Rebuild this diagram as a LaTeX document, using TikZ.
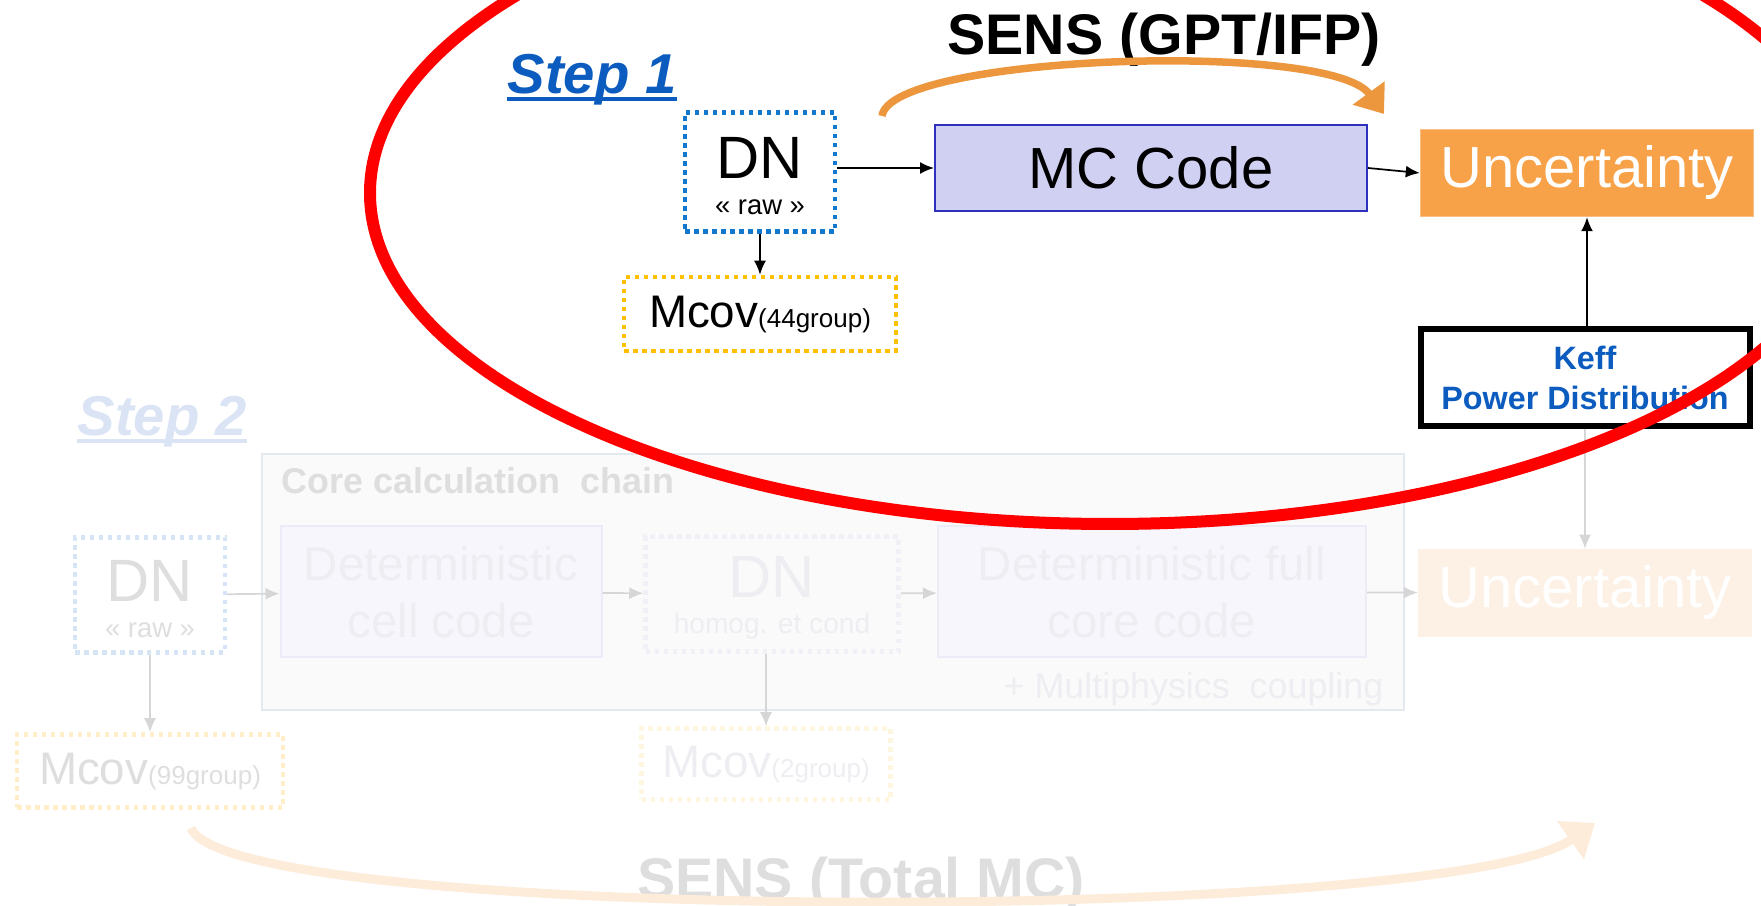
\documentclass[tikz,border=0pt]{standalone}
\usepackage{fontspec}
\setmainfont{Liberation Sans}
\usepackage{tikz}
\usetikzlibrary{positioning, arrows.meta, calc}

\definecolor{stepblue}{RGB}{11,92,190}
\definecolor{dnblue}{RGB}{18,120,205}
\definecolor{mcovgold}{RGB}{255,192,0}
\definecolor{mcfill}{RGB}{208,208,242}
\definecolor{mcline}{RGB}{48,48,190}
\definecolor{uncorange}{RGB}{247,162,72}
\definecolor{uncline}{RGB}{250,190,130}
\definecolor{sensorange}{RGB}{236,150,62}
\definecolor{ringred}{RGB}{255,0,0}
% faded step 2
\definecolor{fadegray}{RGB}{222,222,222}
\definecolor{fadearrow}{RGB}{214,214,214}
\definecolor{step2blue}{RGB}{218,228,244}
\definecolor{chainfill}{RGB}{250,250,250}
\definecolor{chainline}{RGB}{228,233,240}
\definecolor{cellfill}{RGB}{246,246,252}
\definecolor{cellline}{RGB}{236,236,248}
\definecolor{celltext}{RGB}{238,238,242}
\definecolor{dn2line}{RGB}{214,229,245}
\definecolor{dnhline}{RGB}{240,240,246}
\definecolor{mcov99line}{RGB}{255,238,200}
\definecolor{mcov2line}{RGB}{255,246,224}
\definecolor{unc2fill}{RGB}{253,241,229}
\definecolor{arcfade}{RGB}{253,236,218}

\newcommand{\bigtxt}{\fontsize{17}{17}\selectfont\rule{0pt}{14pt}}
\newcommand{\codetxt}{\fontsize{16.5}{16.5}\selectfont}
\newcommand{\mcovtxt}[1]{{\fontsize{13}{13}\selectfont Mcov}{\fontsize{7.4}{8}\selectfont(#1)}}

\tikzset{
  dotbox/.style={rectangle, draw, line width=0.45mm, dash pattern=on 0.45mm off 0.45mm,
                 inner sep=0pt, align=center},
  codebox/.style={rectangle, draw, line width=0.2mm, inner sep=0pt, align=center},
  uncbox/.style={rectangle, draw=uncline, line width=0.15mm, inner sep=0pt, font=\codetxt,
                 minimum width=33.3mm, minimum height=8.7mm},
  arr/.style={-{Latex[length=1.4mm, width=1.2mm]}, line width=0.17mm},
  fadearr/.style={arr, draw=fadearrow},
  steptxt/.style={font=\bfseries\itshape\fontsize{16}{16}\selectfont, anchor=base, inner sep=0pt},
  stepline/.style={line width=0.34mm},
  senstxt/.style={font=\bfseries\fontsize{16.3}{16.3}\selectfont, anchor=base},
}

\begin{document}
\begin{tikzpicture}[x=0.1mm, y=-0.1mm]
  \useasboundingbox (0,0) rectangle (1761,906);

  % step 2, faded
  \node[rectangle, draw=chainline, fill=chainfill, line width=0.25mm,
        minimum width=114.2mm, minimum height=25.6mm] (chain) at (833,582) {};
  \node[font=\bfseries\fontsize{10.2}{10.2}\selectfont, text=fadegray, anchor=base west, inner sep=0pt] (chainttl) at (281,494) {Core calculation\ \ chain};
  \node[steptxt, text=step2blue] (step2) at (162,436) {Step 2};
  \draw[stepline, step2blue] ([yshift=-0.5mm]step2.base west) -- ([yshift=-0.5mm]step2.base east);
  \node[dotbox, draw=dn2line, text=fadegray, minimum width=15.0mm, minimum height=11.5mm,
        font=\fontsize{7.8}{10.2}\selectfont] (dn2) at (150,595) {{\bigtxt DN}\\« raw »};
  \node[codebox, draw=cellline, fill=cellfill, text=celltext, font=\fontsize{13.5}{16}\selectfont,
        minimum width=32.1mm, minimum height=13.1mm] (cell) at (441,592) {Deterministic\\cell code};
  \node[dotbox, draw=dnhline, text=celltext, minimum width=25.3mm, minimum height=11.5mm,
        font=\fontsize{8}{10.2}\selectfont] (dnh) at (772,594) {{\bigtxt DN}\\homog. et cond};
  \node[codebox, draw=cellline, fill=cellfill, text=celltext, font=\fontsize{13.5}{16}\selectfont,
        minimum width=42.8mm, minimum height=13.1mm] (full) at (1152,592) {Deterministic full\\core code};
  \node[uncbox, draw=unc2fill, fill=unc2fill, text=white] (unc2) at (1585,593) {Uncertainty};
  \node[font=\fontsize{10.2}{10.2}\selectfont, text=celltext, anchor=base east, inner sep=0pt] (multi) at (1384,699) {+ Multiphysics\ \ coupling};
  \node[dotbox, draw=mcov99line, text=fadegray, minimum width=26.6mm, minimum height=7.3mm] (mcov99) at (150,771) {\mcovtxt{99group}};
  \node[dotbox, draw=mcov2line, text=celltext, minimum width=24.9mm, minimum height=7.1mm] (mcov2) at (766,764) {\mcovtxt{2group}};
  \node[senstxt, text=fadegray] (senstotal) at (861,899) {SENS (Total MC)};
  \draw[fadearr] (dn2) -- (cell);
  \draw[fadearr] (cell) -- (dnh);
  \draw[fadearr] (dnh) -- (full);
  \draw[fadearr] (full) -- (unc2);
  \draw[fadearr] (dn2) -- (mcov99);
  \draw[fadearr] (dnh.south -| mcov2) -- (mcov2);
  \draw[arcfade, line width=0.9mm, -{Triangle[length=3mm, width=4.5mm]}]
    (191,828) .. controls (230,925) and (1450,925) .. (1595,823);

  % step 1
  \node[steptxt, text=stepblue] (step1) at (592,94) {Step 1};
  \draw[stepline, stepblue] ([yshift=-0.5mm]step1.base west) -- ([yshift=-0.5mm]step1.base east);
  \node[senstxt] (sens) at (1164,55) {SENS (GPT/IFP)};
  \draw[sensorange, line width=0.75mm, -{Triangle[length=2.6mm, width=3.8mm]}]
    (882,116) .. controls (890,55) and (1330,40) .. (1384,114);
  \node[dotbox, draw=dnblue, minimum width=15.0mm, minimum height=11.9mm,
        font=\fontsize{7.8}{10.2}\selectfont] (dn) at (760,172) {{\bigtxt DN}\\« raw »};
  \node[codebox, draw=mcline, fill=mcfill, font=\codetxt,
        minimum width=43.2mm, minimum height=8.6mm] (mc) at (1151,168) {MC Code};
  \node[uncbox, fill=uncorange, text=white] (unc) at (1587,173) {Uncertainty};
  \node[rectangle, draw, line width=0.6mm, minimum width=32.9mm, minimum height=9.7mm,
        align=center, text=stepblue, font=\bfseries\fontsize{9.2}{11.2}\selectfont] (keff) at (1585,378) {Keff\\Power Distribution};
  \node[dotbox, draw=mcovgold, minimum width=27.2mm, minimum height=7.4mm] (mcov) at (760,314) {\mcovtxt{44group}};
  \draw[arr] (dn.east |- mc.west) -- (mc.west);
  \draw[arr] (mc.east) -- (unc.west);
  \draw[arr] (keff.north -| unc) -- (unc.south);
  \draw[arr] (dn) -- (mcov);
  \draw[fadearr] (keff.south -| unc2) -- (unc2.north);

  % red ring
  \begin{scope}
    \clip (0,0) rectangle (1761,906);
    \draw[ringred, line width=1.2mm] (1110,193) ellipse [x radius=740, y radius=331];
  \end{scope}
\end{tikzpicture}
\end{document}
